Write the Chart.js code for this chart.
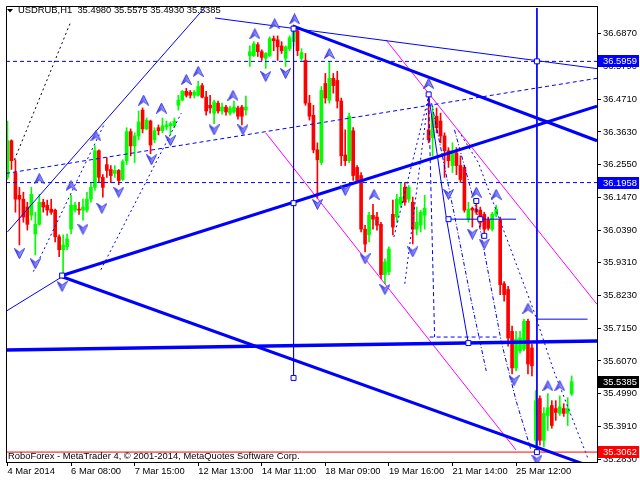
<!DOCTYPE html>
<html>
<head>
<meta charset="utf-8">
<title>USDRUB,H1</title>
<script src="https://cdn.jsdelivr.net/npm/chart.js@4.4.1/dist/chart.umd.min.js"></script>
<style>
  html, body { margin: 0; padding: 0; background: #fff; }
  #wrap { width: 640px; height: 480px; }
</style>
</head>
<body>
<div id="wrap"><canvas id="chart" width="640" height="480"></canvas></div>
<script>
// hourly bars (price)
const barOpen = [
  36.213, 36.334, 36.229, 36.154, 36.141, 36.115, 36.088, 36.026, 36.058, 36.131,
  36.121, 36.108, 36.105, 36.017, 35.974, 35.984, 36.042, 36.105, 36.108, 36.105,
  36.105, 36.141, 36.180, 36.301, 36.213, 36.255, 36.239, 36.226, 36.236, 36.206,
  36.268, 36.364, 36.317, 36.350, 36.435, 36.373, 36.399, 36.337, 36.377, 36.367,
  36.380, 36.383, 36.383, 36.451, 36.468, 36.497, 36.494, 36.484, 36.484, 36.516,
  36.478, 36.451, 36.425, 36.458, 36.432, 36.445, 36.425, 36.429, 36.442, 36.445,
  36.435, 36.615, 36.615, 36.651, 36.628, 36.606, 36.615, 36.671, 36.667, 36.647,
  36.606, 36.638, 36.661, 36.697, 36.606, 36.599, 36.458, 36.418, 36.304, 36.262,
  36.523, 36.468, 36.540, 36.533, 36.465, 36.287, 36.268, 36.367, 36.246, 36.219,
  36.042, 36.023, 36.088, 36.082, 36.058, 35.892, 35.902, 36.091, 36.082, 36.124,
  36.180, 36.141, 36.131, 36.042, 36.055, 36.088, 36.370, 36.344, 36.415, 36.399,
  36.350, 36.301, 36.252, 36.294, 36.252, 36.246, 36.075, 36.111, 36.108, 36.105,
  36.091, 36.072, 36.042, 36.088, 36.072, 35.862, 35.843, 35.705, 35.584, 35.640,
  35.646, 35.738, 35.650, 35.345, 35.483, 35.345, 35.427, 35.460, 35.450, 35.434,
  35.450, 35.434, 35.4980
];
const barHigh = [
  36.399, 36.337, 36.271, 36.180, 36.164, 36.131, 36.180, 36.098, 36.157, 36.141,
  36.138, 36.141, 36.108, 36.023, 36.023, 36.026, 36.154, 36.131, 36.131, 36.141,
  36.164, 36.196, 36.317, 36.304, 36.222, 36.278, 36.252, 36.252, 36.239, 36.271,
  36.377, 36.373, 36.360, 36.432, 36.442, 36.409, 36.402, 36.377, 36.386, 36.409,
  36.399, 36.396, 36.409, 36.484, 36.500, 36.507, 36.500, 36.500, 36.530, 36.523,
  36.497, 36.484, 36.468, 36.465, 36.458, 36.451, 36.448, 36.465, 36.448, 36.451,
  36.481, 36.647, 36.661, 36.658, 36.634, 36.625, 36.677, 36.680, 36.680, 36.661,
  36.647, 36.680, 36.710, 36.704, 36.638, 36.622, 36.484, 36.451, 36.327, 36.513,
  36.556, 36.596, 36.556, 36.563, 36.475, 36.370, 36.425, 36.377, 36.252, 36.229,
  36.055, 36.098, 36.124, 36.098, 36.065, 35.944, 35.984, 36.138, 36.157, 36.196,
  36.196, 36.186, 36.148, 36.115, 36.105, 36.154, 36.491, 36.448, 36.442, 36.425,
  36.360, 36.311, 36.327, 36.311, 36.284, 36.252, 36.131, 36.115, 36.135, 36.115,
  36.098, 36.082, 36.098, 36.121, 36.082, 35.869, 35.853, 35.722, 35.705, 35.705,
  35.745, 35.745, 35.663, 35.509, 35.492, 35.453, 35.499, 35.476, 35.476, 35.492,
  35.466, 35.486, 35.5575
];
const barLow = [
  36.206, 36.239, 36.098, 35.990, 36.065, 36.039, 36.072, 35.957, 36.055, 36.098,
  36.088, 36.091, 36.000, 35.951, 35.886, 35.974, 36.026, 36.098, 36.091, 36.072,
  36.098, 36.131, 36.170, 36.196, 36.148, 36.213, 36.196, 36.213, 36.189, 36.203,
  36.255, 36.284, 36.262, 36.337, 36.360, 36.370, 36.291, 36.327, 36.353, 36.360,
  36.370, 36.353, 36.377, 36.435, 36.465, 36.478, 36.475, 36.475, 36.481, 36.475,
  36.418, 36.425, 36.390, 36.425, 36.422, 36.418, 36.418, 36.425, 36.405, 36.386,
  36.418, 36.579, 36.612, 36.612, 36.599, 36.573, 36.612, 36.631, 36.599, 36.622,
  36.579, 36.631, 36.647, 36.615, 36.599, 36.451, 36.402, 36.294, 36.144, 36.255,
  36.458, 36.458, 36.491, 36.442, 36.252, 36.252, 36.262, 36.203, 36.196, 36.033,
  35.967, 36.000, 36.042, 36.039, 35.879, 35.862, 35.892, 36.023, 36.065, 36.115,
  36.121, 36.131, 35.993, 36.023, 36.033, 36.042, 36.327, 36.284, 36.360, 36.327,
  36.213, 36.246, 36.229, 36.222, 36.196, 36.098, 36.065, 36.049, 36.091, 36.049,
  36.020, 36.039, 36.036, 36.082, 35.826, 35.804, 35.656, 35.564, 35.574, 35.633,
  35.640, 35.564, 35.558, 35.306, 35.329, 35.323, 35.378, 35.385, 35.411, 35.427,
  35.424, 35.394, 35.4930
];
const barClose = [
  36.334, 36.268, 36.141, 36.141, 36.082, 36.058, 36.157, 36.058, 36.131, 36.115,
  36.105, 36.098, 36.017, 35.974, 35.990, 36.010, 36.121, 36.121, 36.105, 36.115,
  36.141, 36.180, 36.301, 36.213, 36.180, 36.236, 36.219, 36.236, 36.203, 36.265,
  36.364, 36.317, 36.350, 36.396, 36.373, 36.402, 36.320, 36.367, 36.367, 36.383,
  36.386, 36.390, 36.399, 36.468, 36.497, 36.484, 36.484, 36.494, 36.513, 36.478,
  36.432, 36.442, 36.462, 36.432, 36.445, 36.429, 36.442, 36.445, 36.415, 36.415,
  36.445, 36.628, 36.654, 36.628, 36.609, 36.622, 36.671, 36.664, 36.644, 36.631,
  36.644, 36.674, 36.700, 36.631, 36.625, 36.458, 36.415, 36.304, 36.271, 36.500,
  36.475, 36.540, 36.516, 36.465, 36.284, 36.268, 36.415, 36.219, 36.203, 36.042,
  35.993, 36.088, 36.075, 36.055, 35.892, 35.934, 35.977, 36.049, 36.141, 36.148,
  36.131, 36.180, 36.042, 36.065, 36.098, 36.111, 36.337, 36.415, 36.377, 36.350,
  36.301, 36.268, 36.301, 36.252, 36.206, 36.105, 36.108, 36.105, 36.098, 36.065,
  36.042, 36.045, 36.091, 36.108, 35.859, 35.826, 35.683, 35.584, 35.679, 35.683,
  35.738, 35.597, 35.591, 35.476, 35.345, 35.434, 35.453, 35.394, 35.437, 35.456,
  35.434, 35.450, 35.5385
];

const timeLabelBars = [0, 16, 32, 48, 64, 80, 96, 112, 128];
const timeLabels = ['4 Mar 2014', '6 Mar 08:00', '7 Mar 15:00', '12 Mar 13:00', '14 Mar 11:00',
  '18 Mar 09:00', '19 Mar 16:00', '21 Mar 14:00', '25 Mar 12:00'];
const priceTicks = [36.687, 36.579, 36.471, 36.363, 36.255, 36.147, 36.039, 35.931,
  35.823, 35.715, 35.607, 35.499, 35.391, 35.283];

// horizontal levels
const levelHigh = 36.5959;
const levelMid = 36.1958;
const levelLow = 35.3062;

// trend lines as [bar, price]
const riseThick = [[13.75, 35.889], [148.375, 36.448]];
const fallThick = [[13.75, 35.885], [148.375, 35.251]];
const flatThick = [[-0.375, 35.643], [148.375, 35.673]];
const topThick = [[71.75, 36.713], [148.375, 36.334]];
const topThin = [[52.25, 36.739], [148.375, 36.572]];
const vertLeft = [[72, 36.713], [72, 35.551]];
const vertRight = [[133.25, 36.772], [133.25, 35.306]];
const shortLevel = [[133, 35.745], [146, 35.745]];
const midDashed = [[-0.375, 36.226], [148.375, 36.540]];
const leftRise = [[0, 36.033], [50, 36.779]];
const leftLow = [[-0.375, 35.771], [13.75, 35.885]];
const blackDots = [[1.75, 36.271], [16, 36.729]];
const magentaA = [[65, 36.360], [128, 35.313]];
const magentaB = [[95.25, 36.667], [148.375, 35.794]];
const dropPath = [[106, 36.484], [110.5, 36.075], [116, 35.666]];
const boxTop = [[110.5, 36.075], [128, 36.075]];
const boxBottom = [[106.25, 35.686], [123.5, 35.686]];
const boxLeft = [[106, 36.481], [107.5, 35.686]];
const fanA = [[100, 35.862], [106, 36.481]];
const fanB = [[97.25, 36.016], [106, 36.481]];
const fanLeftA = [[6.5, 35.902], [24.25, 36.386]];
const fanLeftB = [[23.5, 35.908], [43.75, 36.425]];
const arcA = [[106.75, 36.458], [112.5, 36.088], [116.75, 35.804], [120.5, 35.574]];
const arcB = [[112.5, 36.370], [118, 36.108], [124.25, 35.673], [128, 35.476], [131.75, 35.313]];
const arcC = [[113.5, 36.367], [118.5, 36.262], [132.5, 35.771], [137.5, 35.574], [146.25, 35.280]];

// fractal arrows and pivot marks
const upArrowBars = [8, 16, 22.25, 34.25, 38.75, 45, 48, 56.75, 62.25, 67.25, 72.25, 81, 92.25, 106, 118, 123, 131, 136, 139];
const upArrowPrices = [36.209, 36.186, 36.350, 36.468, 36.442, 36.536, 36.563, 36.484, 36.687, 36.720,
  36.736, 36.622, 36.157, 36.523, 36.164, 36.157, 35.781, 35.525, 35.525];
const downArrowBars = [3, 7, 13.75, 19, 23.75, 28, 36.25, 41, 52, 59.25, 65, 70, 78, 85, 90, 95, 102, 111, 117, 120, 127.5, 133.25];
const downArrowPrices = [35.961, 35.928, 35.853, 36.042, 36.111, 36.164, 36.271, 36.334, 36.370, 36.370,
  36.546, 36.556, 36.124, 36.170, 35.944, 35.843, 35.967, 36.157, 36.026, 35.993, 35.542, 35.280];
const pivotBars = [13.75, 72, 72, 72, 106, 133.25, 111, 118, 119, 120, 116, 133.25];
const pivotPrices = [35.889, 36.704, 36.128, 35.551, 36.487, 36.596, 36.075, 36.135, 36.075, 36.020, 35.666, 35.306];

const FONT = '"Liberation Sans", Arial, sans-serif';
Chart.defaults.font.family = FONT;
Chart.defaults.font.size = 9.4;
Chart.defaults.color = '#000';

const BLUE = '#0000ff';
const bars = barOpen.map((_, i) => i);
const candleColor = bars.map(i => barClose[i] >= barOpen[i] ? '#00ff00' : '#ff0000');
const pts = pairs => pairs.map(([x, y]) => ({x: x, y: y}));
const xFirst = -0.375, xLast = 148.375;

function line(pairs, color, width, dash) {
  return {type: 'line', data: pts(pairs), borderColor: color, borderWidth: width,
    borderDash: dash || [], pointRadius: 0, fill: false, tension: 0, order: 0};
}

function arrowImage(up) {
  const c = document.createElement('canvas');
  c.width = 11; c.height = 11;
  const g = c.getContext('2d');
  g.beginPath();
  if (up) {
    g.moveTo(5.5, 0.5); g.lineTo(10.5, 10.5); g.lineTo(5.5, 7); g.lineTo(0.5, 10.5);
  } else {
    g.moveTo(5.5, 10.5); g.lineTo(10.5, 0.5); g.lineTo(5.5, 4); g.lineTo(0.5, 0.5);
  }
  g.closePath();
  const grad = g.createLinearGradient(0, 0, 11, 0);
  grad.addColorStop(0, '#2a2ad8');
  grad.addColorStop(0.5, '#7a7aff');
  grad.addColorStop(1, '#dcdcff');
  g.fillStyle = grad;
  g.fill();
  g.strokeStyle = '#3a3ae0';
  g.lineWidth = 1;
  g.stroke();
  return c;
}

const priceTags = [levelHigh, levelMid, barClose[barClose.length - 1], levelLow];
const priceTagColors = [BLUE, BLUE, '#000000', '#ff0000'];

const decor = {
  id: 'decor',
  beforeDraw(chart) {
    const c = chart.ctx;
    c.save();
    c.fillStyle = '#fff';
    c.fillRect(0, 0, chart.width, chart.height);
    c.restore();
  },
  afterDraw(chart) {
    const c = chart.ctx, a = chart.chartArea, y = chart.scales.y;
    const n = barClose.length - 1;
    c.save();
    c.strokeStyle = '#000';
    c.lineWidth = 1;
    c.beginPath();
    c.moveTo(a.left + 0.5, a.bottom);
    c.lineTo(a.left + 0.5, a.top + 0.5);
    c.lineTo(a.right, a.top + 0.5);
    c.stroke();

    c.font = '9.4px ' + FONT;
    c.textBaseline = 'middle';
    c.textAlign = 'left';
    c.fillStyle = '#000';
    c.beginPath();
    c.moveTo(7, 9); c.lineTo(13, 9); c.lineTo(10, 12.5); c.closePath(); c.fill();
    const ohlc = [barOpen[n], barHigh[n], barLow[n], barClose[n]].map(v => v.toFixed(4)).join(' ');
    c.fillText('USDRUB,H1  ' + ohlc, 18, 10.5);
    c.fillText('RoboForex - MetaTrader 4, \u00a9 2001-2014, MetaQuotes Software Corp.', 8, 456);

    priceTags.forEach((v, i) => {
      const py = Math.round(y.getPixelForValue(v));
      c.fillStyle = priceTagColors[i];
      c.fillRect(a.right + 1, py - 6, 41, 12);
      c.fillStyle = '#fff';
      c.fillText(v.toFixed(4), a.right + 6, py + 0.5);
    });
    c.restore();
  }
};

new Chart(document.getElementById('chart').getContext('2d'), {
  type: 'bar',
  data: {
    datasets: [
      {type: 'line', data: pts(upArrowBars.map((b, i) => [b, upArrowPrices[i]])), showLine: false,
        pointStyle: arrowImage(true), pointRadius: 5, order: -1},
      {type: 'line', data: pts(downArrowBars.map((b, i) => [b, downArrowPrices[i]])), showLine: false,
        pointStyle: arrowImage(false), pointRadius: 5, order: -1},
      {type: 'line', data: pts(pivotBars.map((b, i) => [b, pivotPrices[i]])), showLine: false,
        pointStyle: 'rect', pointRadius: 3.5, pointBackgroundColor: '#fff', pointBorderColor: BLUE,
        pointBorderWidth: 1, order: -1},
      line(riseThick, BLUE, 3),
      line(fallThick, BLUE, 3),
      line(flatThick, BLUE, 3.5),
      line(topThick, BLUE, 3),
      line(topThin, BLUE, 1),
      line(vertLeft, BLUE, 1),
      line(vertRight, BLUE, 1),
      line(shortLevel, BLUE, 1),
      line([[xFirst, levelHigh], [xLast, levelHigh]], BLUE, 1, [4, 3]),
      line([[xFirst, levelMid], [xLast, levelMid]], BLUE, 1, [4, 3]),
      line([[xFirst, levelLow], [xLast, levelLow]], '#ff0000', 1),
      line(midDashed, BLUE, 1, [4, 3]),
      line(leftRise, BLUE, 1),
      line(leftLow, BLUE, 1),
      line(blackDots, '#000', 1, [2, 3]),
      line(magentaA, '#ff00ff', 1),
      line(magentaB, '#ff00ff', 1),
      line(dropPath, BLUE, 1),
      line(boxTop, BLUE, 1),
      line(boxBottom, BLUE, 1, [4, 3]),
      line(boxLeft, BLUE, 1, [4, 3]),
      line(fanA, BLUE, 1, [2, 3]),
      line(fanB, BLUE, 1, [2, 3]),
      line(fanLeftA, BLUE, 1, [2, 3]),
      line(fanLeftB, BLUE, 1, [2, 3]),
      line(arcA, BLUE, 1, [4, 2, 1, 2]),
      line(arcB, BLUE, 1, [4, 2, 1, 2]),
      line(arcC, BLUE, 1, [2, 3]),
      {label: 'body', data: bars.map(i => ({x: i, y: [barOpen[i], barClose[i]]})),
        backgroundColor: candleColor, barThickness: 3, maxBarThickness: 3, minBarLength: 1,
        grouped: false, borderWidth: 0, order: 1},
      {label: 'wick', data: bars.map(i => ({x: i, y: [barLow[i], barHigh[i]]})),
        backgroundColor: candleColor, barThickness: 1, maxBarThickness: 1, minBarLength: 1,
        grouped: false, borderWidth: 0, order: 2}
    ]
  },
  options: {
    responsive: false,
    animation: false,
    events: [],
    layout: {padding: {left: 2, top: 2, right: 0, bottom: 0}},
    plugins: {legend: {display: false}, tooltip: {enabled: false}},
    scales: {
      x: {
        type: 'linear', min: xFirst, max: xLast, offset: false, bounds: 'data', beginAtZero: false,
        grid: {drawOnChartArea: false, offset: false, tickLength: 4, color: '#000'},
        border: {display: true, color: '#000'},
        ticks: {autoSkip: false, maxRotation: 0, minRotation: 0, align: 'start', padding: 0,
          font: {size: 9.4, lineHeight: 1.2},
          callback: (v, i) => timeLabels[i]},
        afterBuildTicks: s => { s.ticks = timeLabelBars.map(v => ({value: v})); },
        afterFit: s => { s.height = 18; s.paddingLeft = 0; s.paddingRight = 0; }
      },
      y: {
        type: 'linear', position: 'right', min: 35.2735, max: 36.7787, bounds: 'data', beginAtZero: false,
        grid: {drawOnChartArea: false, tickLength: 4, color: '#000'},
        border: {display: true, color: '#000'},
        ticks: {autoSkip: false, padding: 2, callback: v => v.toFixed(4)},
        afterBuildTicks: s => { s.ticks = priceTicks.map(v => ({value: v})); },
        afterFit: s => { s.width = 43; s.paddingTop = 0; s.paddingBottom = 0; }
      }
    }
  },
  plugins: [decor]
});
</script>
</body>
</html>
